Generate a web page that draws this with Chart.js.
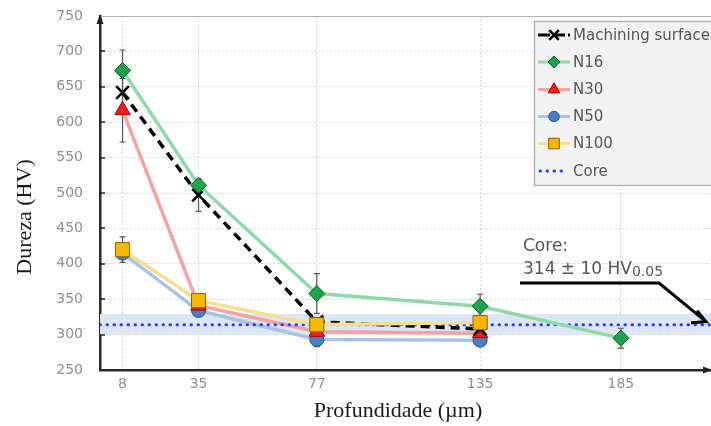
<!DOCTYPE html>
<html><head><meta charset="utf-8">
<script src="https://cdn.jsdelivr.net/npm/chart.js@4/dist/chart.umd.min.js"></script>
<style>html,body{margin:0;padding:0;background:#fff;overflow:hidden}canvas{display:block}</style>
</head><body>
<canvas id="c" width="711" height="426"></canvas>
<script>
// ---------- DATA ----------
const depths = [8, 35, 77, 135, 185];
const xTicks = [8, 35, 77, 135, 185];
const yTicks = [250, 300, 350, 400, 450, 500, 550, 600, 650, 700, 750];
const machining = [642, 497, 318, 308];
const machiningErr = [0, 23, 0, 0];
const n16 = [673, 511, 358, 340, 295];
const n16Err = [29, 8, 28, 17, 14];
const n30 = [617, 341, 304, 302];
const n30Err = [45, 0, 0, 0];
const n50 = [415, 334, 293, 292];
const n50Err = [0, 0, 10, 7];
const n100 = [420, 348, 314, 317];
const n100Err = [18, 6, 0, 0];
const coreValue = 314;
const coreBand = [299, 329];
const legendLabels = ['Machining surface', 'N16', 'N30', 'N50', 'N100', 'Core'];
const xTitle = 'Profundidade (µm)';
const yTitle = 'Dureza (HV)';
const noteLine1 = 'Core:';
const noteLine2 = '314 ± 10 HV';
const noteSub = '0.05';

// ---------- STYLES ----------
const S = {
  mach: {line:'#000000', fill:'#000000', border:'#000000', style:'crossRot', r:9, bw:2.5},
  n16:  {line:'#8fd9a9', fill:'#1fa34a', border:'#0e5a27', style:'rectRot', r:8, bw:1},
  n30:  {line:'#f4a3a3', fill:'#f01e1e', border:'#a80000', style:'triangle', r:9, bw:1},
  n50:  {line:'#a9c3e6', fill:'#4a7fc3', border:'#2a568e', style:'circle', r:7, bw:1},
  n100: {line:'#f7df90', fill:'#f5b700', border:'#8a6400', style:'rect', r:10, bw:1},
  core: {line:'#2b3cff'}
};
const pts = (vals) => vals.map((v, i) => ({x: depths[i], y: v}));
const lineDs = (label, vals, st, order, extra) => Object.assign({
  label, data: pts(vals), borderColor: st.line, borderWidth: 3.5,
  pointStyle: st.style, pointRadius: st.r, pointBackgroundColor: st.fill,
  pointBorderColor: st.border, pointBorderWidth: st.bw, fill: false,
  tension: 0, order
}, extra || {});

const datasets = [
  {label:'bandLow', data:[{x:0,y:coreBand[0]},{x:217,y:coreBand[0]}], borderWidth:0, pointRadius:0, fill:'+1', backgroundColor:'#dde6f4', order:100},
  {label:'bandHigh', data:[{x:0,y:coreBand[1]},{x:217,y:coreBand[1]}], borderWidth:0, pointRadius:0, fill:false, order:99},
  lineDs('N50', n50, S.n50, 60),
  lineDs('N30', n30, S.n30, 50),
  {label:'Core', data:[{x:0,y:coreValue},{x:217,y:coreValue}], borderColor:S.core.line, borderWidth:3, borderDash:[0.5,6.5], borderCapStyle:'round', pointRadius:0, fill:false, order:45},
  lineDs('Machining surface', machining, S.mach, 35, {borderDash:[9,6], borderWidth:3.5}),
  lineDs('N100', n100, S.n100, 30),
  lineDs('N16', n16, S.n16, 20)
];
const errSets = [
  {vals: machining, errs: machiningErr},
  {vals: n16, errs: n16Err},
  {vals: n30, errs: n30Err},
  {vals: n50, errs: n50Err},
  {vals: n100, errs: n100Err}
];

const extras = {
  id: 'extras',
  beforeDatasetsDraw(chart) {
    const {ctx, scales: {x, y}} = chart;
    ctx.save();
    ctx.strokeStyle = '#555';
    ctx.lineWidth = 1.2;
    errSets.forEach(s => s.vals.forEach((v, i) => {
      const e = s.errs[i]; if (!e) return;
      const px = x.getPixelForValue(depths[i]);
      const y1 = y.getPixelForValue(v + e), y2 = y.getPixelForValue(v - e);
      ctx.beginPath();
      ctx.moveTo(px, y1); ctx.lineTo(px, y2);
      ctx.moveTo(px - 3, y1); ctx.lineTo(px + 3, y1);
      ctx.moveTo(px - 3, y2); ctx.lineTo(px + 3, y2);
      ctx.stroke();
    }));
    ctx.strokeStyle = '#b0b0b0'; ctx.lineWidth = 1;
    const top = Math.round(y.getPixelForValue(750)) + 0.5;
    ctx.beginPath(); ctx.moveTo(x.left, top); ctx.lineTo(x.right, top); ctx.stroke();
    ctx.restore();
  },
  afterDraw(chart) {
    const {ctx, scales: {x, y}} = chart;
    ctx.save();
    ctx.strokeStyle = '#222'; ctx.lineWidth = 1.5;
    yTicks.forEach(v => {
      if (v === 250 || v === 750) return;
      const py = Math.round(y.getPixelForValue(v));
      ctx.beginPath(); ctx.moveTo(x.left, py); ctx.lineTo(x.left + 5, py); ctx.stroke();
    });
    ctx.fillStyle = '#222';
    const ax = x.left, ayTop = y.top;
    ctx.beginPath(); ctx.moveTo(ax, ayTop - 2); ctx.lineTo(ax - 3.5, ayTop + 8); ctx.lineTo(ax + 3.5, ayTop + 8); ctx.closePath(); ctx.fill();
    const by = y.bottom, bx = x.right;
    ctx.beginPath(); ctx.moveTo(bx + 1, by); ctx.lineTo(bx - 8, by - 3.5); ctx.lineTo(bx - 8, by + 3.5); ctx.closePath(); ctx.fill();

    ctx.fillStyle = '#1a1a1a';
    ctx.font = '22px "Liberation Serif"';
    ctx.textAlign = 'center'; ctx.textBaseline = 'middle';
    ctx.fillText(xTitle, 398, 411);
    ctx.save();
    ctx.translate(25, 217); ctx.rotate(-Math.PI / 2);
    ctx.fillText(yTitle, 0, 0);
    ctx.restore();

    ctx.fillStyle = '#555';
    ctx.textAlign = 'left';
    ctx.font = '17px "DejaVu Sans"';
    ctx.fillText(noteLine1, 523, 247);
    ctx.fillText(noteLine2, 523, 270);
    const w2 = ctx.measureText(noteLine2).width;
    ctx.font = '14px "DejaVu Sans"';
    ctx.fillText(noteSub, 523 + w2, 272);
    ctx.strokeStyle = '#000'; ctx.lineWidth = 3; ctx.lineJoin = 'miter';
    const tipX = 706, tipY = y.getPixelForValue(coreValue) - 3;
    ctx.beginPath(); ctx.moveTo(520, 283); ctx.lineTo(659, 283); ctx.lineTo(tipX, tipY); ctx.stroke();
    ctx.beginPath(); ctx.moveTo(697, tipY - 11); ctx.lineTo(tipX, tipY); ctx.lineTo(691, tipY + 1); ctx.stroke();

    const lx = 534, ly = 21, lw = 190, lh = 164;
    ctx.fillStyle = '#f2f2f2'; ctx.fillRect(lx, ly, lw, lh);
    ctx.strokeStyle = '#a8a8a8'; ctx.lineWidth = 1.2; ctx.strokeRect(lx + 0.5, ly + 0.5, lw, lh);
    const items = [S.mach, S.n16, S.n30, S.n50, S.n100, S.core];
    const rows = [35, 62, 89.5, 116.5, 143.5, 171];
    items.forEach((st, i) => {
      const yy = rows[i];
      ctx.save();
      ctx.strokeStyle = st.line; ctx.lineWidth = 3;
      if (i === 5) { ctx.setLineDash([0.5, 6.5]); ctx.lineCap = 'round'; ctx.beginPath(); ctx.moveTo(540, yy); ctx.lineTo(565, yy); ctx.stroke(); }
      else {
        if (i === 0) ctx.setLineDash([12, 3]);
        ctx.beginPath(); ctx.moveTo(538, yy); ctx.lineTo(570, yy); ctx.stroke();
        ctx.setLineDash([]);
        ctx.fillStyle = st.fill; ctx.strokeStyle = st.border; ctx.lineWidth = st.bw;
        Chart.helpers.drawPoint(ctx, {pointStyle: st.style, radius: st.r * 0.75, borderWidth: st.bw, rotation: 0}, 554, yy);
      }
      ctx.restore();
      ctx.fillStyle = '#555'; ctx.font = '15px "DejaVu Sans"'; ctx.textAlign = 'left'; ctx.textBaseline = 'middle';
      ctx.fillText(legendLabels[i], 573, yy + 1);
    });
    ctx.restore();
  }
};

new Chart(document.getElementById('c'), {
  type: 'line',
  data: {datasets},
  options: {
    responsive: false, animation: false, devicePixelRatio: 1,
    layout: {autoPadding: false, padding: {top: 16, right: 0, left: 0, bottom: 0}},
    plugins: {legend: {display: false}, tooltip: {enabled: false}, filler: {drawTime: 'beforeDatasetsDraw'}},
    scales: {
      x: {
        type: 'linear', min: 0, max: 217,
        afterBuildTicks: s => { s.ticks = xTicks.map(v => ({value: v})); },
        afterFit: s => { s.height = 56; s.paddingLeft = 0; s.paddingRight = 0; },
        grid: {color: '#d6d6d6', lineWidth: 1, drawTicks: false},
        border: {display: true, color: '#2b2b2b', width: 2.5, dash: [2, 2]},
        ticks: {font: {family: 'DejaVu Sans', size: 14}, color: '#8e8e8e', padding: 6, maxRotation: 0, autoSkip: false}
      },
      y: {
        type: 'linear', min: 250, max: 750,
        afterBuildTicks: s => { s.ticks = yTicks.map(v => ({value: v})); },
        afterFit: s => { s.width = 100; s.paddingTop = 0; s.paddingBottom = 0; },
        grid: {color: '#d6d6d6', lineWidth: 1, drawTicks: false},
        border: {display: true, color: '#2b2b2b', width: 2.5, dash: [2, 2]},
        ticks: {font: {family: 'DejaVu Sans', size: 14}, color: '#8e8e8e', padding: 17}
      }
    }
  },
  plugins: [extras]
});
</script>
</body></html>
